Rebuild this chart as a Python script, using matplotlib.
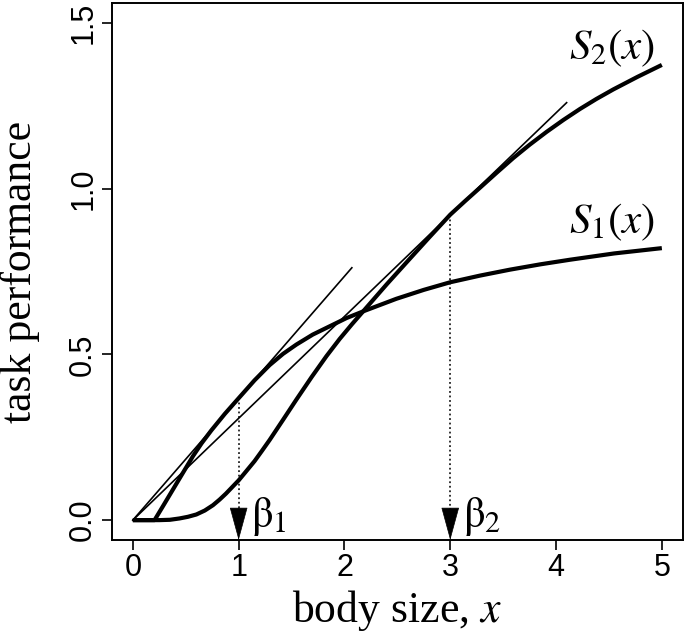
import matplotlib
matplotlib.use("Agg")
import matplotlib.pyplot as plt

plt.rcParams['mathtext.fontset'] = 'stix'
plt.rcParams['font.family'] = ['Liberation Serif', 'DejaVu Serif']

# ---- data ----
s1_x = [0.0, 0.205, 0.29, 0.378, 0.47, 0.568, 0.65, 0.742, 0.87, 1.0, 1.15,
        1.293, 1.42, 1.546, 1.7, 1.86, 2.02, 2.192, 2.49, 2.75, 3.0, 3.28,
        3.564, 3.85, 4.132, 4.55, 5.0]
s1_y = [0.0, 0.0, 0.045, 0.092, 0.141, 0.193, 0.232, 0.271, 0.321, 0.368, 0.422,
        0.468, 0.502, 0.53, 0.56, 0.585, 0.61, 0.632, 0.668, 0.695, 0.718, 0.738,
        0.756, 0.772, 0.786, 0.805, 0.821]

s2_x = [0.0, 0.25, 0.35, 0.44, 0.52, 0.6, 0.68, 0.757, 0.82, 0.88, 0.94, 1.0,
        1.07, 1.15, 1.22, 1.293, 1.42, 1.546, 1.69, 1.83, 1.955, 2.07, 2.19,
        2.4, 2.618, 2.8, 3.0, 3.14, 3.28, 3.44, 3.596, 3.75, 3.911, 4.07,
        4.226, 4.38, 4.541, 4.77, 5.0]
s2_y = [0.0, 0.0, 0.001, 0.005, 0.01, 0.017, 0.029, 0.045, 0.062, 0.08, 0.1,
        0.12, 0.147, 0.178, 0.209, 0.242, 0.303, 0.364, 0.432, 0.495, 0.547,
        0.591, 0.635, 0.712, 0.789, 0.853, 0.922, 0.963, 1.003, 1.049, 1.093,
        1.133, 1.172, 1.208, 1.241, 1.271, 1.300, 1.338, 1.374]

betas = [1.0, 3.0]
beta_labels = [r'$\mathrm{\beta}_1$', r'$\mathrm{\beta}_2$']
tangent_end_x = [2.07, 4.1]
curve_labels = [r'$S_1(x)$', r'$S_2(x)$']

x_ticks = [0, 1, 2, 3, 4, 5]
y_ticks = [0.0, 0.5, 1.0, 1.5]
y_tick_labels = ['0.0', '0.5', '1.0', '1.5']

# ---- figure ----
W, H = 685, 634
fig = plt.figure(figsize=(W / 100, H / 100), dpi=100)
ax = fig.add_axes([111.7 / W, 1 - 540 / H, (683 - 111.7) / W, (540 - 3.3) / H])
ax.set_xlim(-0.2, 5.2)
ax.set_ylim(-0.06, 1.56)

curves = [(s1_x, s1_y), (s2_x, s2_y)]
for (cx, cy) in curves:
    ax.plot(cx, cy, color='black', lw=3.0, solid_capstyle='butt',
            solid_joinstyle='round', zorder=3)

ymin = ax.get_ylim()[0]
for (cx, cy), b, xe, lab in zip(curves, betas, tangent_end_x, beta_labels):
    yb = cy[cx.index(b)]
    slope = yb / b
    ax.plot([0, xe], [0, slope * xe], color='black', lw=1.2, zorder=2)
    ax.plot([b, b], [yb, 0.035], color='#222222', lw=1.3,
            linestyle=(0, (1, 1.5)), zorder=1)
    ax.annotate('', xy=(b, ymin), xytext=(b, 0.035),
                arrowprops=dict(arrowstyle='-|>,head_length=2.2,head_width=0.6',
                                color='black', lw=0.5, shrinkA=0, shrinkB=0),
                annotation_clip=False)
    ax.text(b + 0.12, -0.02, lab, fontsize=31, ha='left', va='baseline')

ax.text(4.53, 0.865, curve_labels[0], fontsize=31, ha='center', va='baseline')
ax.text(4.53, 1.391, curve_labels[1], fontsize=31, ha='center', va='baseline')

ax.set_xticks(x_ticks)
ax.set_xticklabels([str(v) for v in x_ticks], family='Liberation Sans', fontsize=22)
ax.set_yticks(y_ticks)
ax.set_yticklabels(y_tick_labels, family='Liberation Sans', fontsize=22,
                   rotation=90, va='center')
ax.tick_params(length=7.2, width=1.2, pad=2.5, direction='out', color='black')
for sp in ax.spines.values():
    sp.set_linewidth(1.4)

fig.text(397 / W, 1 - 622 / H, r'body size, $x$', fontsize=31.5,
         ha='center', va='baseline')
fig.text(31 / W, 1 - 271.6 / H, 'task performance', fontsize=31.5,
         ha='center', va='baseline', rotation=90, rotation_mode='anchor')

fig.savefig('out.png', dpi=100)
